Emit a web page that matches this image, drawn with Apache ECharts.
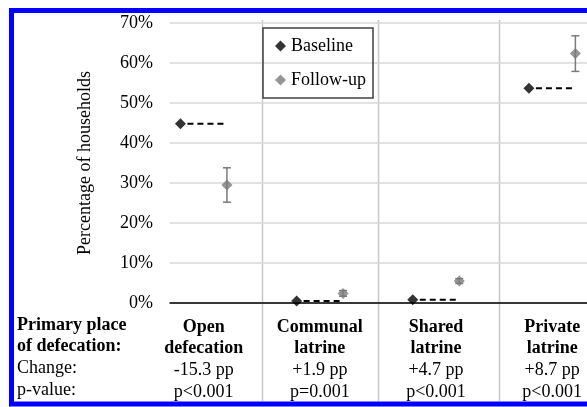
<!DOCTYPE html>
<html><head><meta charset="utf-8">
<script src="https://cdn.jsdelivr.net/npm/echarts@6/dist/echarts.min.js"></script>
<style>html,body{margin:0;padding:0;background:#fff}#c{width:587px;height:407px}</style>
</head><body><div id="c"></div>
<script>
// ---- data ----
const categories = ['Open\ndefecation', 'Communal\nlatrine', 'Shared\nlatrine', 'Private\nlatrine'];
const changes = ['-15.3 pp', '+1.9 pp', '+4.7 pp', '+8.7 pp'];
const pValues = ['p<0.001', 'p=0.001', 'p<0.001', 'p<0.001'];
const baseline = [44.8, 0.5, 0.8, 53.7];
const followUp = [29.5, 2.4, 5.5, 62.4];
const followUpLow = [25.2, 1.7, 4.9, 57.9];
const followUpHigh = [33.8, 3.1, 6.1, 66.8];
const yTicks = [0, 10, 20, 30, 40, 50, 60, 70];
const rowHeader = ['Primary place', 'of defecation:', 'Change:', 'p-value:'];
const separators = [0.5, 1.5, 2.54]; // category-unit positions of column dividers
const OFFSET = 0.2;

const FONT = '"Liberation Serif", "Times New Roman", serif';
const chart = echarts.init(document.getElementById('c'), null, {renderer: 'canvas'});

const option = {
  backgroundColor: '#fff',
  animation: false,
  grid: {left: 170, right: 0, top: 23, bottom: 104, containLabel: false},
  legend: {
    data: ['Baseline', 'Follow-up'],
    orient: 'vertical',
    left: 263, top: 28,
    itemWidth: 11, itemHeight: 11, itemGap: 14,
    padding: [8, 7, 8, 12],
    borderColor: '#404040', borderWidth: 1.5,
    textStyle: {fontFamily: FONT, fontSize: 18, color: '#000', lineHeight: 20},
    selectedMode: false
  },
  xAxis: {
    type: 'value', min: -0.29, max: 3.30,
    axisLine: {show: true, onZero: true, lineStyle: {color: '#000', width: 1.5}},
    axisTick: {show: false},
    splitLine: {show: false},
    axisLabel: {
      show: true,
      customValues: [0, 1, 2, 3],
      margin: 13,
      formatter: function (v) {
        const i = Math.round(v);
        const parts = categories[i].split('\n');
        return '{b|' + parts[0] + '}\n{b|' + parts[1] + '}\n{n|' + changes[i] + '}\n{n|' + pValues[i] + '}';
      },
      rich: {
        b: {fontFamily: FONT, fontSize: 18, fontWeight: 'bold', color: '#000', lineHeight: 21.7, align: 'center'},
        n: {fontFamily: FONT, fontSize: 18, color: '#000', lineHeight: 21.7, align: 'center'}
      }
    }
  },
  yAxis: {
    type: 'value', min: yTicks[0], max: yTicks[yTicks.length - 1], interval: yTicks[1] - yTicks[0],
    name: 'Percentage of households', nameLocation: 'middle', nameGap: 76, nameRotate: 90,
    nameTextStyle: {fontFamily: FONT, fontSize: 18, color: '#000'},
    axisLine: {show: false}, axisTick: {show: false},
    axisLabel: {margin: 17, fontFamily: FONT, fontSize: 18, color: '#000', formatter: v => v + '%'},
    splitLine: {show: true, lineStyle: {color: '#d9d9d9', width: 1.5}}
  },
  series: [
    {
      name: 'Baseline-dash', type: 'custom', z: 3,
      data: baseline.map((v, i) => [i - OFFSET, i + OFFSET, v]),
      renderItem: function (params, api) {
        const p1 = api.coord([api.value(0), api.value(2)]);
        const p2 = api.coord([api.value(1), api.value(2)]);
        return {type: 'line', shape: {x1: p1[0] + 7, y1: p1[1], x2: p2[0] - 2, y2: p2[1]},
          style: {stroke: '#000', lineWidth: 2, lineDash: [6, 4]}};
      }
    },
    {
      name: 'Follow-up-err', type: 'custom', z: 3,
      data: followUp.map((v, i) => [i + OFFSET, followUpLow[i], followUpHigh[i]]),
      renderItem: function (params, api) {
        const lo = api.coord([api.value(0), api.value(1)]);
        const hi = api.coord([api.value(0), api.value(2)]);
        const w = 4;
        const st = {stroke: '#7a7a7a', lineWidth: 1.5};
        return {type: 'group', children: [
          {type: 'line', shape: {x1: lo[0], y1: lo[1], x2: hi[0], y2: hi[1]}, style: st},
          {type: 'line', shape: {x1: lo[0] - w, y1: lo[1], x2: lo[0] + w, y2: lo[1]}, style: st},
          {type: 'line', shape: {x1: hi[0] - w, y1: hi[1], x2: hi[0] + w, y2: hi[1]}, style: st}
        ]};
      }
    },
    {
      name: 'Baseline', type: 'scatter', symbol: 'diamond', symbolSize: 11, z: 5,
      itemStyle: {color: '#000'},
      data: baseline.map((v, i) => [i - OFFSET, v])
    },
    {
      name: 'Follow-up', type: 'scatter', symbol: 'diamond', symbolSize: 11, z: 5,
      itemStyle: {color: '#7a7a7a'},
      data: followUp.map((v, i) => [i + OFFSET, v])
    }
  ]
};
chart.setOption(option);

// column dividers and frame, positioned through the axis scale
const dividerLines = separators.map(s => {
  const x = Math.round(chart.convertToPixel({xAxisIndex: 0}, s)) + 0.5;
  return {type: 'line', z: -1, shape: {x1: x, y1: 20, x2: x, y2: 401}, style: {stroke: '#c8c8c8', lineWidth: 1.5}};
});
chart.setOption({
  graphic: [
    ...dividerLines,
    {
      type: 'text', left: 17, top: 316,
      style: {
        text: '{b|' + rowHeader[0] + '}\n{b|' + rowHeader[1] + '}\n{n|' + rowHeader[2] + '}\n{n|' + rowHeader[3] + '}',
        rich: {
          b: {fontFamily: FONT, fontSize: 18, fontWeight: 'bold', fill: '#000', lineHeight: 21.7},
          n: {fontFamily: FONT, fontSize: 18, fill: '#000', lineHeight: 21.7}
        }
      }
    },
    {type: 'rect', z: 100, shape: {x: 11.5, y: 10.5, width: 620, height: 393.5},
      style: {fill: 'none', stroke: '#0000ff', lineWidth: 5}}
  ]
});
</script></body></html>
